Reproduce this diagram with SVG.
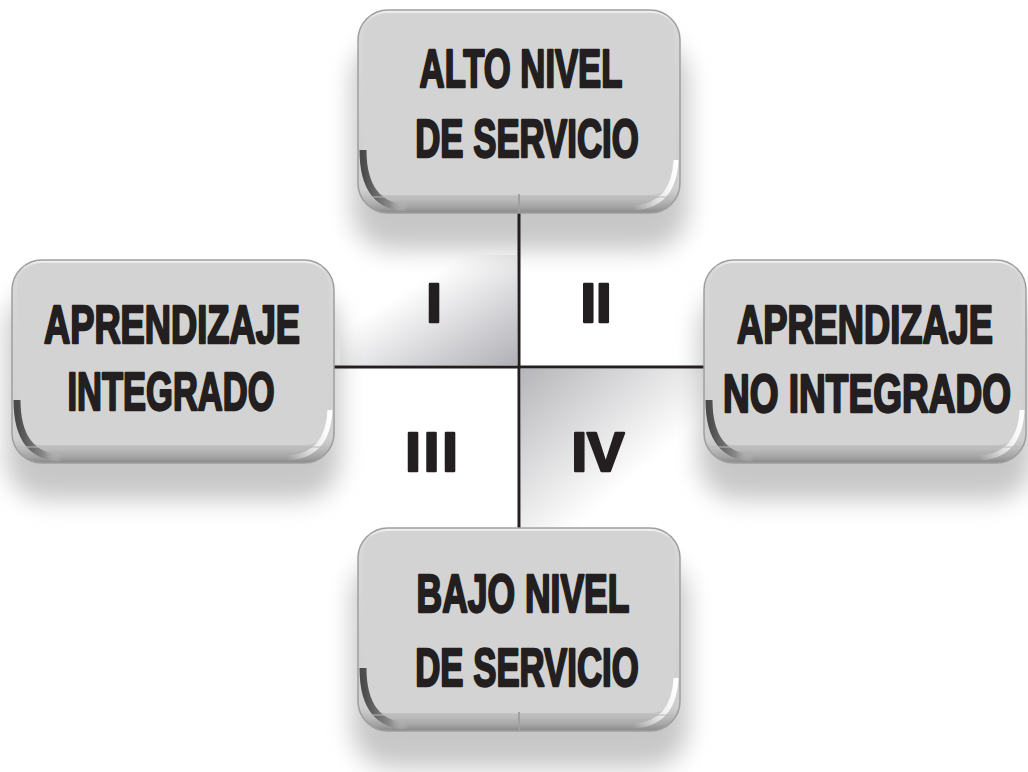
<svg xmlns="http://www.w3.org/2000/svg" width="1028" height="772" viewBox="0 0 1028 772">
<defs>
<filter id="blur" x="-30%" y="-30%" width="160%" height="160%"><feGaussianBlur stdDeviation="12"/></filter>
<linearGradient id="bevel" x1="0" y1="0" x2="0" y2="1">
<stop offset="0" stop-color="#f2f2f2"/><stop offset="0.05" stop-color="#d8d8d8"/><stop offset="0.88" stop-color="#cfcfcf"/><stop offset="0.92" stop-color="#c2c2c2"/><stop offset="0.97" stop-color="#a4a4a4"/><stop offset="1" stop-color="#888888"/>
</linearGradient>
<linearGradient id="corner" x1="0" y1="0" x2="1" y2="0">
<stop offset="0" stop-color="#4a4a4a"/><stop offset="0.6" stop-color="#8a8a8a"/><stop offset="1" stop-color="#d0d0d0" stop-opacity="0"/>
</linearGradient>
<linearGradient id="hl" x1="0" y1="0" x2="1" y2="0">
<stop offset="0" stop-color="#ffffff" stop-opacity="0"/><stop offset="1" stop-color="#ffffff"/>
</linearGradient>
<linearGradient id="q1" x1="0" y1="0" x2="1" y2="1">
<stop offset="0.35" stop-color="#ffffff"/><stop offset="1" stop-color="#b0b0b6"/>
</linearGradient>
<linearGradient id="q4" x1="0" y1="0" x2="1" y2="1">
<stop offset="0" stop-color="#b6b6ba"/><stop offset="0.65" stop-color="#ffffff"/>
</linearGradient>
<g id="box">
<rect x="0" y="0" width="322" height="203" rx="30" fill="url(#bevel)" stroke="#9e9e9e" stroke-width="1.5"/>
<rect x="5" y="3" width="312" height="182" rx="24" fill="#d3d3d3"/>
<path d="M5 140 Q5 197 50 198" fill="none" stroke="url(#corner)" stroke-width="7"/>
<path d="M275 198 Q316 196 318 150" fill="none" stroke="url(#hl)" stroke-width="5"/>
<line x1="5" y1="187" x2="317" y2="187" stroke="#b8b8b8" stroke-width="1"/>
</g>
</defs>
<style>
.t{font-family:"Liberation Sans",Arial,sans-serif;font-weight:bold;font-size:54px;fill:#231f20;stroke:#231f20;stroke-width:2.4;stroke-linejoin:round;text-anchor:middle}
.n{font-family:"Liberation Sans",Arial,sans-serif;font-weight:bold;font-size:56px;fill:#231f20;stroke:#231f20;stroke-width:2.5;stroke-linejoin:round;text-anchor:middle}
.ln{stroke:#231f20;stroke-width:3;fill:none}
.sh{fill:#9a9a9a;opacity:0.55;filter:url(#blur)}
</style>
<rect width="1028" height="772" fill="#ffffff"/>
<g id="quadrants">
<rect x="340" y="255" width="177" height="110" fill="url(#q1)"/>
<rect x="521" y="369" width="182" height="158" fill="url(#q4)"/>
</g>
<g id="shadows">
<rect class="sh" x="352" y="40" width="336" height="210" rx="40"/>
<rect class="sh" x="6" y="290" width="334" height="210" rx="40"/>
<rect class="sh" x="699" y="290" width="334" height="210" rx="40"/>
<rect class="sh" x="352" y="558" width="336" height="210" rx="40"/>
</g>
<g id="connectors">
<line class="ln" x1="519" y1="212" x2="519" y2="529"/>
<line class="ln" x1="332" y1="367" x2="706" y2="367"/>
</g>
<g id="node-top">
<use href="#box" x="358" y="10"/>
<line x1="519" y1="194" x2="519" y2="212" stroke="#a0a0a0" stroke-width="2"/>
<text class="t" transform="translate(521 87) scale(0.642 1)">ALTO NIVEL</text>
<text class="t" transform="translate(527 157) scale(0.644 1)">DE SERVICIO</text>
</g>
<g id="node-left">
<use href="#box" x="12" y="260"/>
<text class="t" transform="translate(172 343) scale(0.672 1)">APRENDIZAJE</text>
<text class="t" transform="translate(171 410) scale(0.639 1)">INTEGRADO</text>
</g>
<g id="node-right">
<use href="#box" x="704" y="260"/>
<text class="t" transform="translate(865 343) scale(0.672 1)">APRENDIZAJE</text>
<text class="t" transform="translate(867 412) scale(0.686 1)">NO INTEGRADO</text>
</g>
<g id="node-bottom">
<use href="#box" x="358" y="528"/>
<line x1="519" y1="712" x2="519" y2="731" stroke="#a0a0a0" stroke-width="2"/>
<text class="t" transform="translate(523 612) scale(0.657 1)">BAJO NIVEL</text>
<text class="t" transform="translate(527 686) scale(0.644 1)">DE SERVICIO</text>
</g>
<g id="labels">
<text class="n" x="434" y="322">I</text>
<text class="n" x="596" y="322">II</text>
<text class="n" x="433" y="471" letter-spacing="3">III</text>
<text class="n" x="598" y="471">IV</text>
</g>
</svg>
